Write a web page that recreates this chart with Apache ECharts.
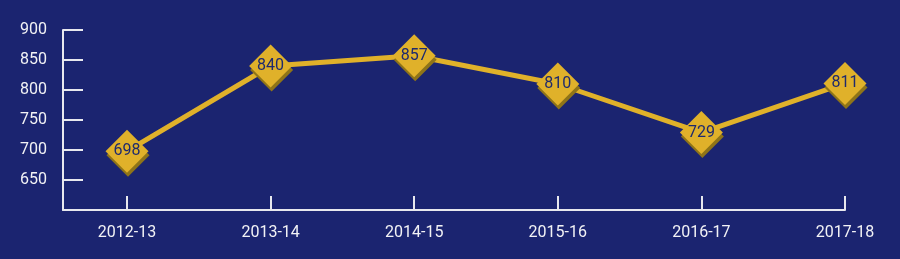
<!DOCTYPE html>
<html><head><meta charset="utf-8">
<script src="https://cdn.jsdelivr.net/npm/echarts@6/dist/echarts.min.js"></script>
<style>html,body{margin:0;padding:0;background:#1b2470;}#c{width:900px;height:259px;}</style>
</head><body><div id="c"></div>
<script>
var categories = ['2012-13','2013-14','2014-15','2015-16','2016-17','2017-18'];
var values = [698, 840, 857, 810, 729, 811];
var yTicks = [650, 700, 750, 800, 850, 900];

var idx = categories.map(function(_, i){ return i; });
var chart = echarts.init(document.getElementById('c'));
chart.setOption({
  backgroundColor: '#1b2470',
  animation: false,
  grid: { left: 63, right: 55, top: 30, bottom: 49 },
  xAxis: {
    type: 'value', min: -0.4457, max: categories.length - 1,
    splitLine: { show: false },
    axisLine: { show: true, onZero: false, lineStyle: { color: '#e8e8ee', width: 2 } },
    axisTick: { show: true, inside: true, length: 14, customValues: idx, lineStyle: { color: '#e8e8ee', width: 2 } },
    axisLabel: { customValues: idx, margin: 15, color: '#f2f2f5', fontSize: 16, fontFamily: 'Roboto',
      formatter: function(v){ return categories[Math.round(v)]; } }
  },
  yAxis: {
    type: 'value', min: 600, max: 900, interval: 50,
    splitLine: { show: false },
    axisLine: { show: true, onZero: false, lineStyle: { color: '#e8e8ee', width: 2 } },
    axisTick: { show: true, inside: true, length: 20, lineStyle: { color: '#e8e8ee', width: 2 } },
    axisLabel: { margin: 16, color: '#f2f2f5', fontSize: 16, fontFamily: 'Roboto',
      formatter: function(v){ return yTicks.indexOf(v) >= 0 ? String(v) : ''; } }
  },
  series: [{
    type: 'line',
    data: values.map(function(v, i){ return [i, v]; }),
    clip: false,
    symbol: 'diamond',
    symbolSize: [43, 43],
    lineStyle: { color: '#e0b12a', width: 5 },
    itemStyle: { color: '#e0b12a', shadowColor: '#8f7418', shadowBlur: 0, shadowOffsetY: 4, shadowOffsetX: 1 },
    label: { show: true, position: 'inside', color: '#1e2a6e', fontSize: 16, fontFamily: 'Roboto' }
  }]
});
</script></body></html>
